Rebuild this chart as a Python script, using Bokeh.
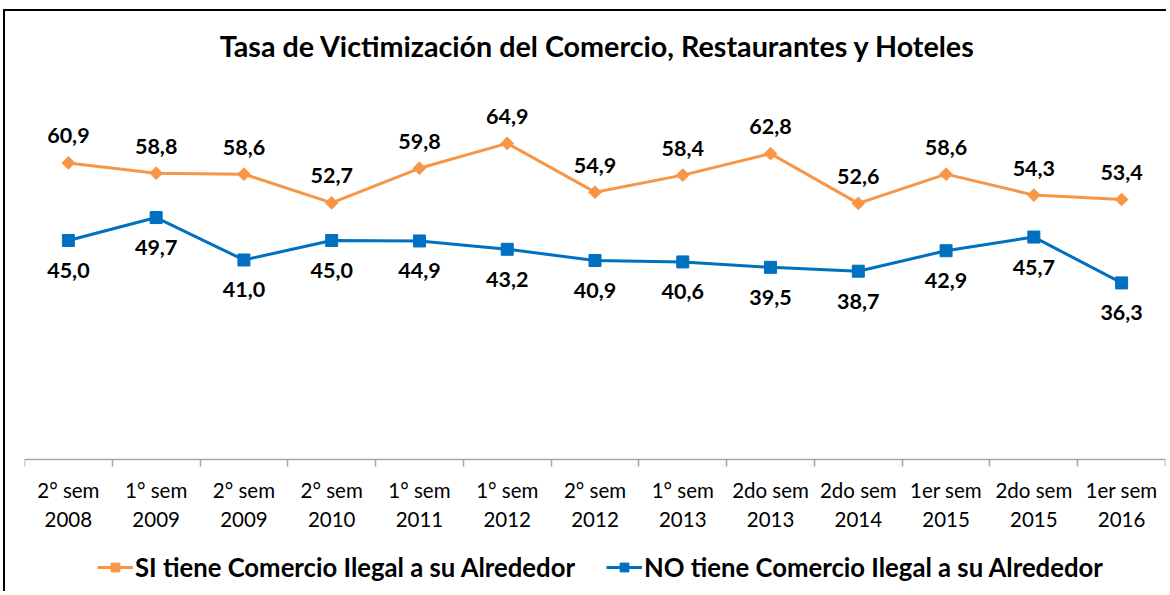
from bokeh.plotting import figure
from bokeh.models import ColumnDataSource, FixedTicker, Range1d, Legend, LegendItem, Label
from bokeh.core.properties import value
from bokeh.embed import file_html
from bokeh.resources import INLINE
import numpy as np

categories = ["2° sem\n2008", "1° sem\n2009", "2° sem\n2009", "2° sem\n2010", "1° sem\n2011",
              "1° sem\n2012", "2° sem\n2012", "1° sem\n2013", "2do sem\n2013", "2do sem\n2014",
              "1er sem\n2015", "2do sem\n2015", "1er sem\n2016"]
si_values = [60.9, 58.8, 58.6, 52.7, 59.8, 64.9, 54.9, 58.4, 62.8, 52.6, 58.6, 54.3, 53.4]
no_values = [45.0, 49.7, 41.0, 45.0, 44.9, 43.2, 40.9, 40.6, 39.5, 38.7, 42.9, 45.7, 36.3]
series_names = ["SI tiene Comercio Ilegal a su Alrededor", "NO tiene Comercio Ilegal a su Alrededor"]
title_text = "Tasa de Victimización del Comercio, Restaurantes y Hoteles"

FONT = "Lato"
ORANGE = "#F79646"
BLUE = "#0070C0"

xs = list(range(len(categories)))
fmt = lambda v: f"{v:.1f}".replace(".", ",")
src = ColumnDataSource(dict(
    x=xs, si=si_values, no=no_values,
    si_lab=[fmt(v) for v in si_values], no_lab=[fmt(v) for v in no_values],
))

p = figure(width=1163, height=582, output_backend="svg", toolbar_location=None,
           x_range=Range1d(-0.5, len(categories) - 0.5), y_range=Range1d(-27.37, 91.94),
           min_border_left=19, min_border_right=3, min_border_top=0, min_border_bottom=0)
p.styles = {"margin-left": "3px", "margin-top": "9px",
            "border-left": "2px solid #000", "border-top": "2px solid #000"}
p.outline_line_color = None
p.xgrid.visible = False
p.ygrid.visible = False
p.yaxis.visible = False

title = Label(x=573.5, y=548, x_units="screen", y_units="screen", text=title_text,
              text_font=FONT, text_font_size="28.7px", text_font_style="bold",
              text_align="center", text_baseline="middle", text_color="#000000")
p.add_layout(title)

ax = p.xaxis[0]
ax.fixed_location = 0
ax.ticker = FixedTicker(ticks=xs, minor_ticks=[i - 0.5 for i in range(len(categories) + 1)])
ax.major_label_overrides = {i: c for i, c in enumerate(categories)}
ax.major_tick_out = 0
ax.major_tick_in = 0
ax.minor_tick_out = 7
ax.minor_tick_in = 0
ax.minor_tick_line_color = "#A6A6A6"
ax.axis_line_color = "#A6A6A6"
ax.axis_line_width = 1.5
ax.minor_tick_line_width = 1.5
ax.major_label_text_font = FONT
ax.major_label_text_font_size = "20.5px"
ax.major_label_text_color = "#000000"
ax.major_label_standoff = 11

l1 = p.line("x", "si", source=src, line_color=ORANGE, line_width=3)
m1 = p.scatter("x", "si", source=src, marker="square", angle=np.pi / 4, size=9,
               fill_color=ORANGE, line_color=ORANGE)
l2 = p.line("x", "no", source=src, line_color=BLUE, line_width=3)
m2 = p.scatter("x", "no", source=src, marker="square", size=12,
               fill_color=BLUE, line_color=BLUE)

p.text("x", "si", text="si_lab", source=src, text_align="center", text_baseline="middle",
       y_offset=-27, text_font=value(FONT), text_font_style="bold", text_font_size="21.5px",
       text_color="#000000")
p.text("x", "no", text="no_lab", source=src, text_align="center", text_baseline="middle",
       y_offset=30, text_font=value(FONT), text_font_style="bold", text_font_size="21.5px",
       text_color="#000000")

legend = Legend(items=[LegendItem(label=series_names[0], renderers=[l1, m1]),
                       LegendItem(label=series_names[1], renderers=[l2, m2])],
                orientation="horizontal", location=(73, 11),
                label_text_font=FONT, label_text_font_style="bold", label_text_font_size="25.7px",
                label_text_color="#000000", glyph_width=36, glyph_height=22,
                spacing=31, label_standoff=2, border_line_color=None,
                background_fill_alpha=0, margin=0, padding=0)
p.add_layout(legend)

open("out.html", "w").write(file_html(p, INLINE))
